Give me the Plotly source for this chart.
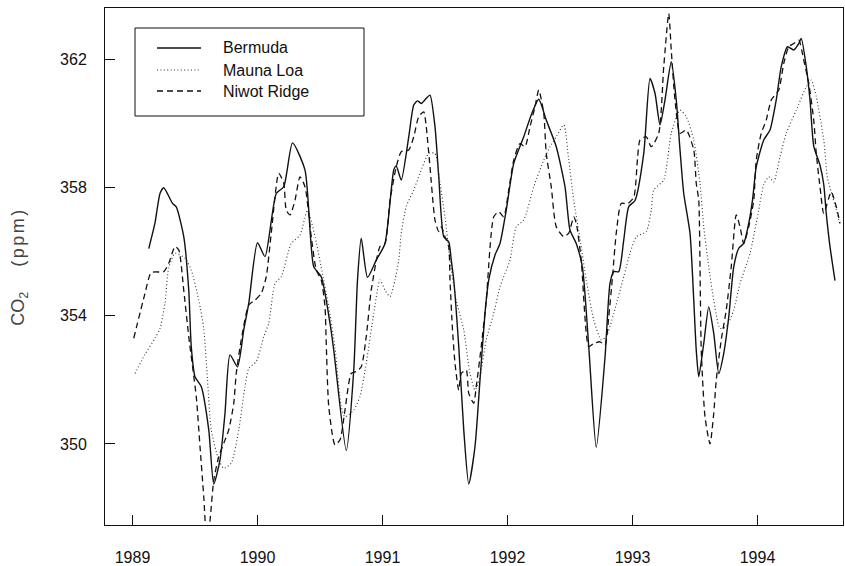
import plotly.graph_objects as go

# ---- data (decimal year, CO2 ppm) ----
bermuda_x = [1989.13, 1989.18, 1989.22, 1989.25, 1989.32, 1989.35, 1989.41, 1989.45, 1989.47, 1989.50,
             1989.55, 1989.61, 1989.65, 1989.70, 1989.74, 1989.78, 1989.84, 1989.89, 1989.93, 1990.00,
             1990.06, 1990.15, 1990.21, 1990.28, 1990.38, 1990.45, 1990.51, 1990.58, 1990.61, 1990.71,
             1990.77, 1990.80, 1990.83, 1990.88, 1990.95, 1991.02, 1991.09, 1991.11, 1991.15, 1991.21,
             1991.25, 1991.28, 1991.31, 1991.35, 1991.38, 1991.42, 1991.45, 1991.49, 1991.53, 1991.55,
             1991.57, 1991.61, 1991.65, 1991.69, 1991.74, 1991.78, 1991.82, 1991.85, 1991.90, 1991.94,
             1991.99, 1992.05, 1992.13, 1992.19, 1992.25, 1992.31, 1992.39, 1992.46, 1992.50, 1992.55,
             1992.60, 1992.65, 1992.71, 1992.78, 1992.82, 1992.85, 1992.89, 1992.93, 1992.97, 1993.02,
             1993.09, 1993.14, 1993.18, 1993.22, 1993.26, 1993.31, 1993.35, 1993.38, 1993.41, 1993.46,
             1993.49, 1993.51, 1993.53, 1993.57, 1993.61, 1993.65, 1993.69, 1993.73, 1993.77, 1993.81,
             1993.85, 1993.89, 1993.93, 1993.96, 1993.99, 1994.05, 1994.10, 1994.15, 1994.19, 1994.24,
             1994.29, 1994.33, 1994.35, 1994.39, 1994.42, 1994.45, 1994.50, 1994.53, 1994.55, 1994.58,
             1994.62]
bermuda_y = [356.10, 356.90, 357.82, 358.00, 357.51, 357.40, 356.47, 354.80, 353.04, 352.10,
             351.79, 350.44, 348.75, 349.50, 350.96, 352.78, 352.41, 353.56, 354.39, 356.28,
             355.85, 357.82, 358.03, 359.40, 358.55, 355.53, 355.22, 353.77, 352.93, 349.80,
             352.31, 355.12, 356.42, 355.20, 355.74, 356.26, 358.55, 358.68, 358.24, 359.59,
             360.58, 360.71, 360.63, 360.79, 360.89, 359.90, 358.34, 356.47, 356.31, 355.74,
             355.12, 353.04, 350.44, 348.75, 349.92, 352.00, 354.08, 355.12, 355.90, 356.26,
             357.30, 358.76, 359.59, 360.27, 360.76, 360.11, 359.28, 358.03, 356.68, 356.26,
             355.50, 353.04, 349.90, 352.70, 355.01, 355.38, 355.38, 356.37, 357.41, 357.60,
             359.07, 361.41, 360.95, 359.96, 360.74, 361.93, 360.74, 359.18, 357.82, 356.58,
             354.49, 352.93, 352.10, 353.14, 354.28, 353.45, 352.20, 352.83, 353.97, 355.53,
             356.11, 356.26, 356.89, 357.61, 358.65, 359.49, 359.80, 360.74, 361.78, 362.40,
             362.30, 362.50, 362.66, 361.78, 360.74, 359.30, 358.70, 358.10, 357.20, 356.16,
             355.10]

mauna_loa_x = [1989.02, 1989.10, 1989.18, 1989.22, 1989.26, 1989.29, 1989.34, 1989.42, 1989.47, 1989.53,
               1989.57, 1989.60, 1989.63, 1989.69, 1989.73, 1989.79, 1989.85, 1989.90, 1989.93, 1989.99,
               1990.05, 1990.09, 1990.14, 1990.19, 1990.27, 1990.34, 1990.40, 1990.47, 1990.52, 1990.57,
               1990.62, 1990.67, 1990.70, 1990.77, 1990.82, 1990.87, 1990.93, 1990.98, 1991.02, 1991.06,
               1991.10, 1991.13, 1991.15, 1991.19, 1991.25, 1991.30, 1991.37, 1991.42, 1991.46, 1991.50,
               1991.54, 1991.59, 1991.65, 1991.70, 1991.74, 1991.78, 1991.83, 1991.89, 1991.94, 1992.02,
               1992.07, 1992.13, 1992.21, 1992.29, 1992.34, 1992.39, 1992.45, 1992.49, 1992.53, 1992.58,
               1992.63, 1992.69, 1992.75, 1992.79, 1992.85, 1992.93, 1992.98, 1993.03, 1993.11, 1993.15,
               1993.17, 1993.25, 1993.31, 1993.38, 1993.43, 1993.49, 1993.54, 1993.57, 1993.61, 1993.65,
               1993.70, 1993.75, 1993.81, 1993.86, 1993.94, 1994.01, 1994.05, 1994.09, 1994.13, 1994.18,
               1994.23, 1994.31, 1994.39, 1994.43, 1994.47, 1994.53, 1994.56, 1994.59, 1994.63, 1994.66]
mauna_loa_y = [352.20, 352.80, 353.30, 353.60, 354.40, 355.50, 355.95, 355.80, 355.43, 354.49,
               353.60, 352.00, 350.44, 349.50, 349.24, 349.40, 350.44, 351.79, 352.36, 352.57,
               353.35, 353.77, 355.01, 355.22, 356.26, 356.52, 357.30, 356.30, 355.30, 354.28,
               353.00, 351.17, 350.85, 351.06, 351.48, 352.52, 354.08, 355.12, 354.80, 354.60,
               355.12, 355.74, 356.58, 357.41, 357.93, 358.45, 359.07, 359.07, 358.14, 357.09,
               355.74, 354.49, 353.56, 352.20, 351.68, 352.10, 353.25, 354.08, 354.91, 355.74,
               356.78, 356.99, 358.03, 358.86, 359.28, 359.59, 359.96, 358.86, 357.61, 356.40,
               355.12, 353.87, 353.25, 353.35, 354.08, 355.22, 355.95, 356.47, 356.63, 357.30,
               357.93, 358.24, 359.70, 360.42, 360.22, 359.49, 358.14, 356.78, 355.53, 354.49,
               353.61, 353.66, 354.18, 355.01, 355.95, 357.30, 358.10, 358.34, 358.18, 358.97,
               359.70, 360.42, 361.15, 361.36, 360.84, 359.49, 358.30, 357.87, 357.30, 356.84]

niwot_x = [1989.01, 1989.10, 1989.15, 1989.25, 1989.29, 1989.34, 1989.37, 1989.41, 1989.45, 1989.51,
           1989.54, 1989.57, 1989.595, 1989.62, 1989.65, 1989.69, 1989.73, 1989.77, 1989.81, 1989.83,
           1989.87, 1989.93, 1989.98, 1990.03, 1990.07, 1990.11, 1990.17, 1990.21, 1990.23, 1990.26,
           1990.30, 1990.34, 1990.38, 1990.43, 1990.47, 1990.51, 1990.54, 1990.55, 1990.57, 1990.62,
           1990.66, 1990.70, 1990.75, 1990.79, 1990.83, 1990.87, 1990.91, 1990.98, 1991.02, 1991.06,
           1991.11, 1991.15, 1991.21, 1991.25, 1991.29, 1991.33, 1991.35, 1991.38, 1991.42, 1991.45,
           1991.47, 1991.50, 1991.53, 1991.54, 1991.56, 1991.58, 1991.61, 1991.63, 1991.67, 1991.69,
           1991.73, 1991.75, 1991.79, 1991.83, 1991.89, 1991.93, 1991.97, 1992.01, 1992.05, 1992.10,
           1992.14, 1992.18, 1992.22, 1992.25, 1992.29, 1992.31, 1992.35, 1992.39, 1992.45, 1992.49,
           1992.53, 1992.55, 1992.59, 1992.65, 1992.69, 1992.74, 1992.78, 1992.81, 1992.84, 1992.87,
           1992.91, 1992.96, 1993.01, 1993.04, 1993.06, 1993.11, 1993.15, 1993.21, 1993.25, 1993.29,
           1993.31, 1993.34, 1993.38, 1993.43, 1993.49, 1993.51, 1993.53, 1993.54, 1993.55, 1993.58,
           1993.62, 1993.65, 1993.67, 1993.71, 1993.75, 1993.79, 1993.83, 1993.86, 1993.89, 1993.93,
           1993.97, 1993.99, 1994.03, 1994.07, 1994.11, 1994.17, 1994.21, 1994.25, 1994.29, 1994.33,
           1994.37, 1994.41, 1994.45, 1994.47, 1994.50, 1994.53, 1994.59, 1994.63, 1994.66]
niwot_y = [353.30, 354.70, 355.35, 355.38, 355.64, 356.16, 356.06, 354.80, 353.35, 351.48,
           349.92, 348.35, 346.90, 347.60, 348.87, 349.60, 350.02, 350.44, 351.27, 352.20,
           353.25, 354.34, 354.49, 354.70, 355.22, 356.58, 358.45, 358.14, 357.30, 357.15,
           357.61, 358.34, 358.03, 356.47, 355.43, 355.12, 354.28, 353.14, 351.17, 349.97,
           350.13, 351.06, 352.20, 352.26, 352.41, 353.35, 354.80, 356.16, 356.26, 357.61,
           358.65, 359.12, 359.18, 359.59, 360.22, 360.37, 359.90, 358.65, 356.99, 356.63,
           356.78, 356.47, 356.16, 355.12, 353.56, 352.52, 351.68, 352.20, 352.31, 351.58,
           351.27, 351.79, 353.04, 354.49, 357.09, 357.25, 357.09, 357.93, 358.86, 359.38,
           359.28, 359.90, 360.53, 361.05, 360.32, 359.07, 358.03, 356.78, 356.47, 356.58,
           357.09, 356.89, 355.74, 353.04, 353.14, 353.19, 353.09, 353.97, 355.22, 356.58,
           357.51, 357.50, 357.70, 358.90, 359.49, 359.59, 359.28, 359.70, 361.78, 363.44,
           362.30, 360.74, 359.70, 359.80, 359.18, 358.14, 357.61, 355.53, 352.93, 350.85,
           350.00, 350.96, 352.00, 353.25, 354.18, 355.53, 357.15, 356.78, 356.26, 356.78,
           357.61, 358.86, 359.70, 360.11, 360.74, 361.05, 361.88, 362.40, 362.50, 362.61,
           361.98, 361.26, 360.11, 359.07, 358.03, 357.20, 357.87, 357.41, 356.89]

series_names = ["Bermuda", "Mauna Loa", "Niwot Ridge"]
x_tick_vals = [1989, 1990, 1991, 1992, 1993, 1994]
y_tick_vals = [350, 354, 358, 362]

# ---- styles ----
styles = [
    dict(color="#111111", width=1.4, dash="solid"),
    dict(color="#333333", width=1.1, dash="1px,2.4px"),
    dict(color="#111111", width=1.3, dash="6px,4px"),
]
FONT = "Liberation Sans, Arial, Helvetica, sans-serif"

fig = go.Figure()
for (xs, ys), name, st in zip([(bermuda_x, bermuda_y), (mauna_loa_x, mauna_loa_y), (niwot_x, niwot_y)],
                              series_names, styles):
    fig.add_trace(go.Scatter(x=xs, y=ys, mode="lines", name=name, showlegend=False,
                             line=dict(color=st["color"], width=st["width"], dash=st["dash"],
                                       shape="spline", smoothing=0.6)))

# plot area in pixels: x 105..843, y 8..525
L, R, T, B = 105, 2, 8, 41
W, H = 845, 566
pw, ph = W - L - R, H - T - B

def px(x):
    return (x - L) / pw

def py(y):
    return (H - B - y) / ph

shapes = [dict(type="rect", xref="paper", yref="paper", x0=px(135), x1=px(364), y0=py(116), y1=py(28),
               line=dict(color="#111111", width=1), fillcolor="white", layer="above")]
annotations = []
legend_rows = [48, 70, 91]
for name, st, yy in zip(series_names, styles, legend_rows):
    shapes.append(dict(type="line", xref="paper", yref="paper", x0=px(157), x1=px(201),
                       y0=py(yy), y1=py(yy),
                       line=dict(color=st["color"], width=st["width"], dash=st["dash"]), layer="above"))
    annotations.append(dict(xref="paper", yref="paper", x=px(221), y=py(yy), xanchor="left",
                            yanchor="middle", text=name, showarrow=False,
                            font=dict(family=FONT, size=16, color="#111111")))

axis_common = dict(showline=True, linecolor="#111111", linewidth=1, mirror=True, ticks="inside",
                   ticklen=10, tickwidth=1, tickcolor="#111111", showgrid=False, zeroline=False,
                   tickfont=dict(family=FONT, size=16, color="#111111"))

fig.update_layout(
    width=W, height=H, margin=dict(l=L, r=R, t=T, b=B, autoexpand=False),
    paper_bgcolor="white", plot_bgcolor="white",
    xaxis=dict(range=[1988.78, 1994.684], tickvals=x_tick_vals, ticklabelstandoff=18, **axis_common),
    yaxis=dict(range=[347.47, 363.61], tickvals=y_tick_vals, ticklabelstandoff=14,
               title=dict(text='CO<sub>2</sub>&nbsp;&nbsp;&nbsp;&nbsp;&nbsp;<span style="letter-spacing:2.5px">(ppm)</span>',
                          font=dict(family=FONT, size=18, color="#444444"), standoff=30),
               **axis_common),
    shapes=shapes, annotations=annotations, showlegend=False,
)

fig.write_html("out.html")
